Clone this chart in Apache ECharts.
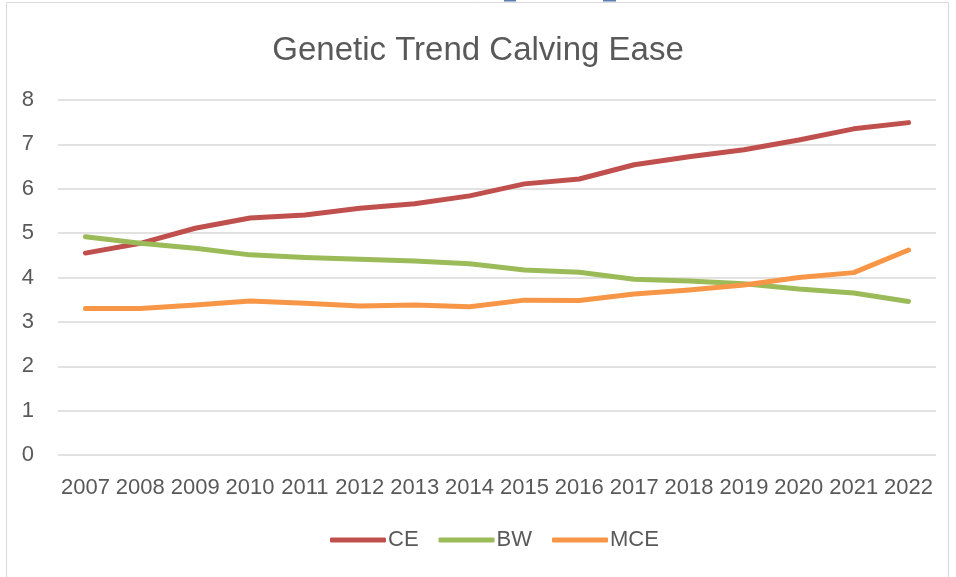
<!DOCTYPE html>
<html><head><meta charset="utf-8">
<script src="https://cdn.jsdelivr.net/npm/echarts@6/dist/echarts.min.js"></script>
<style>html,body{margin:0;padding:0;background:#fff}#c{width:956px;height:577px}</style>
</head><body><div id="c"></div>
<script>
const years = ['2007','2008','2009','2010','2011','2012','2013','2014','2015','2016','2017','2018','2019','2020','2021','2022'];
const ceValues  = [4.55,4.77,5.11,5.34,5.41,5.56,5.66,5.84,6.11,6.22,6.54,6.72,6.88,7.10,7.35,7.49];
const bwValues  = [4.92,4.77,4.66,4.51,4.45,4.41,4.37,4.31,4.17,4.12,3.96,3.92,3.86,3.74,3.65,3.46];
const mceValues = [3.30,3.30,3.38,3.47,3.42,3.36,3.38,3.34,3.49,3.48,3.63,3.72,3.83,4.00,4.11,4.62];
const seriesNames = ['CE','BW','MCE'];
const colors = ['#C0504D','#9BBB59','#F79646'];

const FONT = '"Liberation Sans Narrow","Liberation Sans",sans-serif';
const chart = echarts.init(document.getElementById('c'), null, {renderer:'canvas'});
const mk = (name, data, color) => ({
  name, type:'line', data, symbol:'none', smooth:false,
  lineStyle:{width:5, color, cap:'round', join:'round'}, itemStyle:{color},
  emphasis:{disabled:true}
});
chart.setOption({
  animation:false,
  backgroundColor:'#fff',
  title:{text:'Genetic Trend Calving Ease', left:'center', top:29,
    textStyle:{fontFamily:FONT, fontWeight:'normal', fontSize:33, color:'#595959'}},
  legend:{bottom:21, left:325, itemWidth:56, itemHeight:5, itemGap:20,
    icon:'roundRect',
    textStyle:{fontFamily:FONT, fontSize:22, color:'#595959', padding:[0,0,0,-3]},
    data:seriesNames},
  grid:{left:58, right:20, top:100, bottom:122, containLabel:false},
  xAxis:{type:'category', data:years, boundaryGap:true,
    axisLine:{show:false}, axisTick:{show:false},
    axisLabel:{fontFamily:FONT, fontSize:22, color:'#595959', margin:22, interval:0}},
  yAxis:{type:'value', min:0, max:8, interval:1,
    axisLine:{show:false}, axisTick:{show:false},
    splitLine:{lineStyle:{color:'#D9D9D9', width:1.5}},
    axisLabel:{fontFamily:FONT, fontSize:22, color:'#595959', margin:24}},
  series:[mk('CE',ceValues,colors[0]), mk('BW',bwValues,colors[1]), mk('MCE',mceValues,colors[2])],
  graphic:[
    {type:'rect', shape:{x:6.5,y:2.5,width:942,height:590}, style:{fill:'none', stroke:'#D9D9D9', lineWidth:1}, silent:true},
    {type:'rect', shape:{x:504,y:0,width:12,height:1.5}, style:{fill:'#5B7DB1'}, silent:true},
    {type:'rect', shape:{x:603,y:0,width:13,height:1.5}, style:{fill:'#5B7DB1'}, silent:true}
  ]
});
</script></body></html>
